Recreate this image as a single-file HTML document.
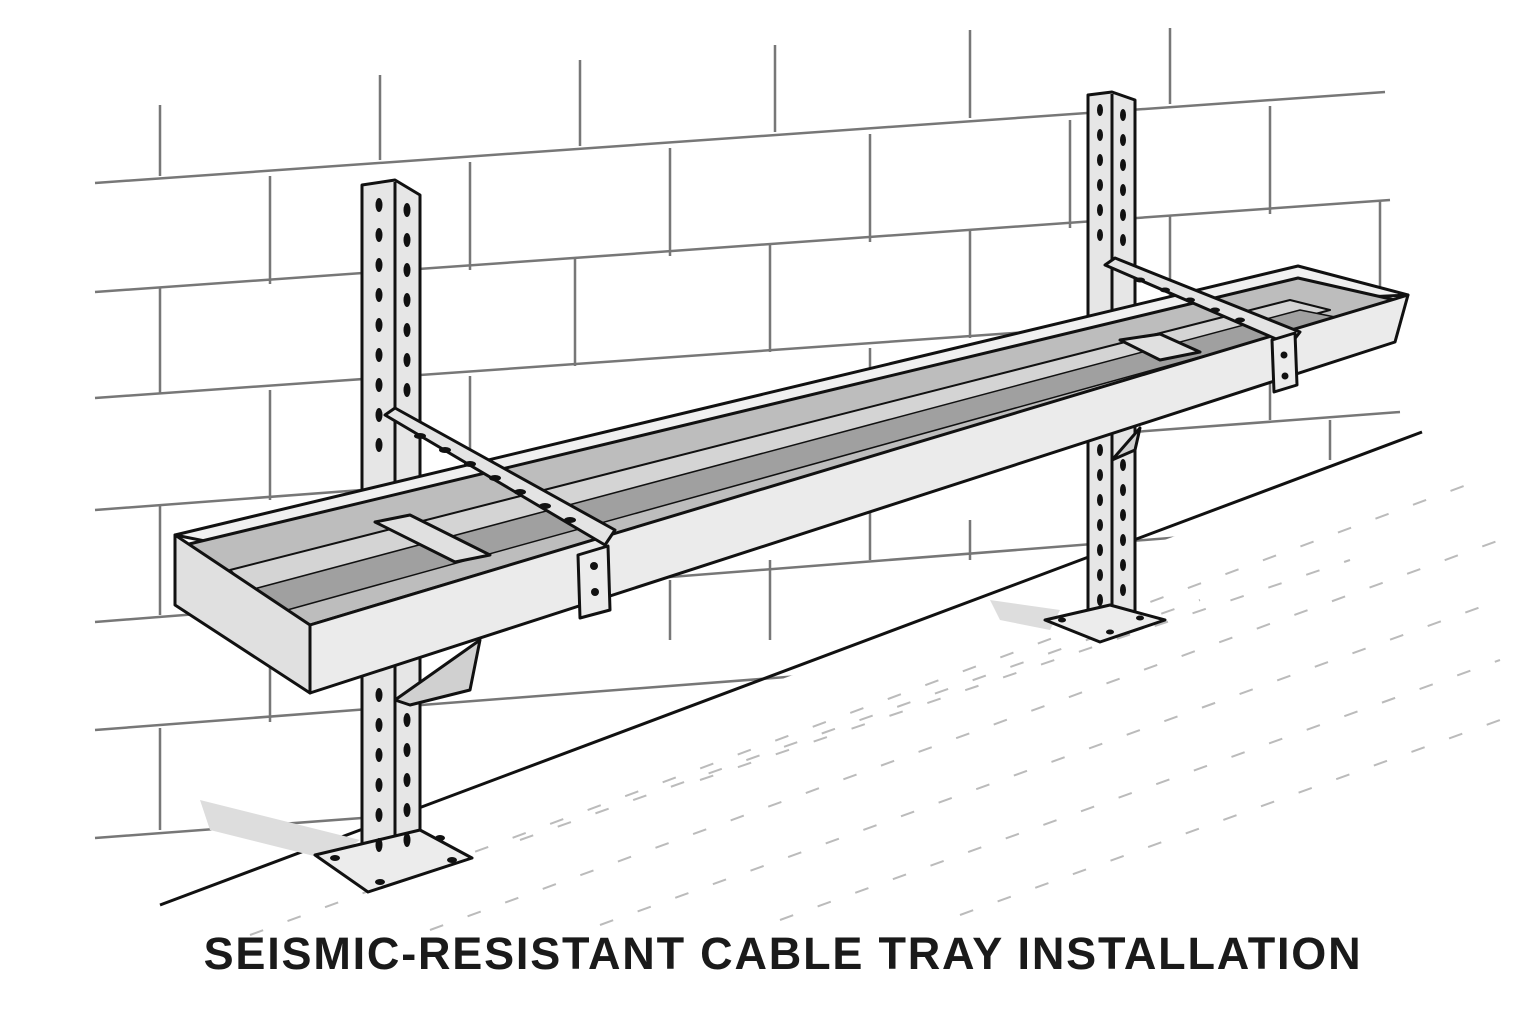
<!DOCTYPE html>
<html><head><meta charset="utf-8"><style>
html,body{margin:0;padding:0;background:#fff;width:1536px;height:1024px;overflow:hidden}
svg{position:absolute;left:0;top:0}
.t{position:absolute;left:0;width:1566px;top:928px;text-align:center;font-family:"Liberation Sans",sans-serif;font-weight:bold;font-size:45px;letter-spacing:1.8px;color:#1a1a1a}
</style></head><body>
<svg width="1536" height="1024" viewBox="0 0 1536 1024">
<defs><clipPath id="wall"><polygon points="0,0 1536,0 1536,405 160,905 0,905"/></clipPath></defs>
<g stroke="#777" stroke-width="2.5" fill="none" clip-path="url(#wall)">
<line x1="95" y1="183" x2="1385" y2="92"/>
<line x1="95" y1="292" x2="1390" y2="200"/>
<line x1="95" y1="398" x2="1395" y2="306"/>
<line x1="95" y1="510" x2="1400" y2="412"/>
<line x1="95" y1="622" x2="1400" y2="520"/>
<line x1="95" y1="730" x2="1400" y2="630"/>
<line x1="95" y1="838" x2="1400" y2="740"/>
<line x1="160" y1="105" x2="160" y2="176"/>
<line x1="380" y1="75" x2="380" y2="160"/>
<line x1="580" y1="60" x2="580" y2="146"/>
<line x1="775" y1="45" x2="775" y2="132"/>
<line x1="970" y1="30" x2="970" y2="118"/>
<line x1="1170" y1="28" x2="1170" y2="104"/>
<line x1="270" y1="176" x2="270" y2="284"/>
<line x1="470" y1="162" x2="470" y2="270"/>
<line x1="670" y1="148" x2="670" y2="256"/>
<line x1="870" y1="134" x2="870" y2="242"/>
<line x1="1070" y1="120" x2="1070" y2="228"/>
<line x1="1270" y1="106" x2="1270" y2="214"/>
<line x1="160" y1="288" x2="160" y2="394"/>
<line x1="575" y1="258" x2="575" y2="366"/>
<line x1="770" y1="244" x2="770" y2="352"/>
<line x1="970" y1="230" x2="970" y2="338"/>
<line x1="1170" y1="216" x2="1170" y2="324"/>
<line x1="1380" y1="200" x2="1380" y2="308"/>
<line x1="270" y1="390" x2="270" y2="500"/>
<line x1="470" y1="376" x2="470" y2="486"/>
<line x1="870" y1="348" x2="870" y2="560"/>
<line x1="1270" y1="318" x2="1270" y2="420"/>
<line x1="160" y1="505" x2="160" y2="615"/>
<line x1="670" y1="580" x2="670" y2="640"/>
<line x1="270" y1="615" x2="270" y2="722"/>
<line x1="160" y1="728" x2="160" y2="830"/>
<line x1="1330" y1="420" x2="1330" y2="460"/>
<line x1="970" y1="520" x2="970" y2="560"/>
<line x1="770" y1="560" x2="770" y2="640"/>
</g>
<line x1="160" y1="905" x2="1422" y2="432" stroke="#111" stroke-width="3"/>
<g stroke="#bbb" stroke-width="2" stroke-dasharray="14 26">
<line x1="250" y1="935" x2="1480" y2="480"/>
<line x1="430" y1="930" x2="1500" y2="540"/>
<line x1="600" y1="925" x2="1500" y2="600"/>
<line x1="780" y1="920" x2="1500" y2="660"/>
<line x1="960" y1="915" x2="1500" y2="720"/>
<line x1="520" y1="840" x2="1200" y2="600"/>
<line x1="700" y1="780" x2="1350" y2="560"/>
</g>
<polygon points="200,800 360,840 330,860 210,830" fill="#ddd"/>
<polygon points="990,600 1060,610 1050,630 1000,620" fill="#ddd"/>
<g stroke="#111" stroke-width="3" stroke-linejoin="round">
<polygon points="362,185 395,180 420,195 420,870 395,880 362,870" fill="#e6e6e6"/>
<line x1="395" y1="182" x2="395" y2="878"/>
<polygon points="1088,95 1112,92 1135,100 1135,625 1112,632 1088,625" fill="#e6e6e6"/>
<line x1="1112" y1="94" x2="1112" y2="630"/>
<polygon points="315,855 420,830 472,858 368,892" fill="#ececec"/>
<polygon points="1045,620 1110,605 1165,620 1100,642" fill="#ececec"/>
<polygon points="395,700 480,640 470,690 410,705" fill="#d0d0d0"/>
<polygon points="1112,460 1140,428 1135,450" fill="#d0d0d0"/>
<polygon points="175,535 1298,266 1408,295 1300,300 300,560" fill="#f0f0f0"/>
<polygon points="185,545 1298,278 1395,300 310,625" fill="#bdbdbd"/>
<polygon points="230,570 1290,300 1330,310 260,600" fill="#d4d4d4" stroke-width="2"/>
<polygon points="250,590 1300,310 1340,318 280,612" fill="#a0a0a0" stroke-width="1.5"/>
<polygon points="175,535 310,625 310,693 175,605" fill="#e0e0e0"/>
<polygon points="310,625 1408,295 1395,342 310,693" fill="#ebebeb"/>
<polygon points="375,522 410,515 490,555 455,562" fill="#e0e0e0"/>
<polygon points="1120,340 1160,334 1200,352 1160,360" fill="#e0e0e0"/>
<polygon points="385,415 395,408 615,530 605,545" fill="#e4e4e4"/>
<polygon points="1105,265 1115,258 1300,332 1290,345" fill="#e4e4e4"/>
<polygon points="578,555 608,546 610,610 580,618" fill="#ececec"/>
<polygon points="1272,340 1295,333 1297,385 1274,392" fill="#ececec"/>
</g>
<g fill="#111">
<ellipse cx="379" cy="205" rx="3.5" ry="7"/><ellipse cx="379" cy="235" rx="3.5" ry="7"/><ellipse cx="379" cy="265" rx="3.5" ry="7"/><ellipse cx="379" cy="295" rx="3.5" ry="7"/><ellipse cx="379" cy="325" rx="3.5" ry="7"/><ellipse cx="379" cy="355" rx="3.5" ry="7"/><ellipse cx="379" cy="385" rx="3.5" ry="7"/><ellipse cx="379" cy="415" rx="3.5" ry="7"/><ellipse cx="379" cy="445" rx="3.5" ry="7"/>
<ellipse cx="407" cy="210" rx="3.5" ry="7"/><ellipse cx="407" cy="240" rx="3.5" ry="7"/><ellipse cx="407" cy="270" rx="3.5" ry="7"/><ellipse cx="407" cy="300" rx="3.5" ry="7"/><ellipse cx="407" cy="330" rx="3.5" ry="7"/><ellipse cx="407" cy="360" rx="3.5" ry="7"/><ellipse cx="407" cy="390" rx="3.5" ry="7"/>
<ellipse cx="379" cy="695" rx="3.5" ry="7"/><ellipse cx="379" cy="725" rx="3.5" ry="7"/><ellipse cx="379" cy="755" rx="3.5" ry="7"/><ellipse cx="379" cy="785" rx="3.5" ry="7"/><ellipse cx="379" cy="815" rx="3.5" ry="7"/><ellipse cx="379" cy="845" rx="3.5" ry="7"/>
<ellipse cx="407" cy="720" rx="3.5" ry="7"/><ellipse cx="407" cy="750" rx="3.5" ry="7"/><ellipse cx="407" cy="780" rx="3.5" ry="7"/><ellipse cx="407" cy="810" rx="3.5" ry="7"/><ellipse cx="407" cy="840" rx="3.5" ry="7"/>
<ellipse cx="1100" cy="110" rx="3" ry="6"/><ellipse cx="1100" cy="135" rx="3" ry="6"/><ellipse cx="1100" cy="160" rx="3" ry="6"/><ellipse cx="1100" cy="185" rx="3" ry="6"/><ellipse cx="1100" cy="210" rx="3" ry="6"/><ellipse cx="1100" cy="235" rx="3" ry="6"/>
<ellipse cx="1123" cy="115" rx="3" ry="6"/><ellipse cx="1123" cy="140" rx="3" ry="6"/><ellipse cx="1123" cy="165" rx="3" ry="6"/><ellipse cx="1123" cy="190" rx="3" ry="6"/><ellipse cx="1123" cy="215" rx="3" ry="6"/><ellipse cx="1123" cy="240" rx="3" ry="6"/>
<ellipse cx="1100" cy="450" rx="3" ry="6"/><ellipse cx="1100" cy="475" rx="3" ry="6"/><ellipse cx="1100" cy="500" rx="3" ry="6"/><ellipse cx="1100" cy="525" rx="3" ry="6"/><ellipse cx="1100" cy="550" rx="3" ry="6"/><ellipse cx="1100" cy="575" rx="3" ry="6"/><ellipse cx="1100" cy="600" rx="3" ry="6"/>
<ellipse cx="1123" cy="465" rx="3" ry="6"/><ellipse cx="1123" cy="490" rx="3" ry="6"/><ellipse cx="1123" cy="515" rx="3" ry="6"/><ellipse cx="1123" cy="540" rx="3" ry="6"/><ellipse cx="1123" cy="565" rx="3" ry="6"/><ellipse cx="1123" cy="590" rx="3" ry="6"/>
<ellipse cx="420" cy="436" rx="6" ry="3"/><ellipse cx="445" cy="450" rx="6" ry="3"/><ellipse cx="470" cy="464" rx="6" ry="3"/><ellipse cx="495" cy="478" rx="6" ry="3"/><ellipse cx="520" cy="492" rx="6" ry="3"/><ellipse cx="545" cy="506" rx="6" ry="3"/><ellipse cx="570" cy="520" rx="6" ry="3"/>
<ellipse cx="1140" cy="280" rx="5" ry="2.5"/><ellipse cx="1165" cy="290" rx="5" ry="2.5"/><ellipse cx="1190" cy="300" rx="5" ry="2.5"/><ellipse cx="1215" cy="310" rx="5" ry="2.5"/><ellipse cx="1240" cy="320" rx="5" ry="2.5"/>
<circle cx="594" cy="566" r="4"/><circle cx="595" cy="592" r="4"/>
<circle cx="1284" cy="355" r="3.5"/><circle cx="1285" cy="376" r="3.5"/>
<ellipse cx="335" cy="858" rx="5" ry="3"/><ellipse cx="380" cy="882" rx="5" ry="3"/><ellipse cx="440" cy="838" rx="5" ry="3"/><ellipse cx="452" cy="860" rx="5" ry="3"/>
<ellipse cx="1062" cy="620" rx="4" ry="2.5"/><ellipse cx="1110" cy="632" rx="4" ry="2.5"/><ellipse cx="1140" cy="618" rx="4" ry="2.5"/>
</g>
</svg>
<div class="t">SEISMIC-RESISTANT CABLE TRAY INSTALLATION</div>
</body></html>
